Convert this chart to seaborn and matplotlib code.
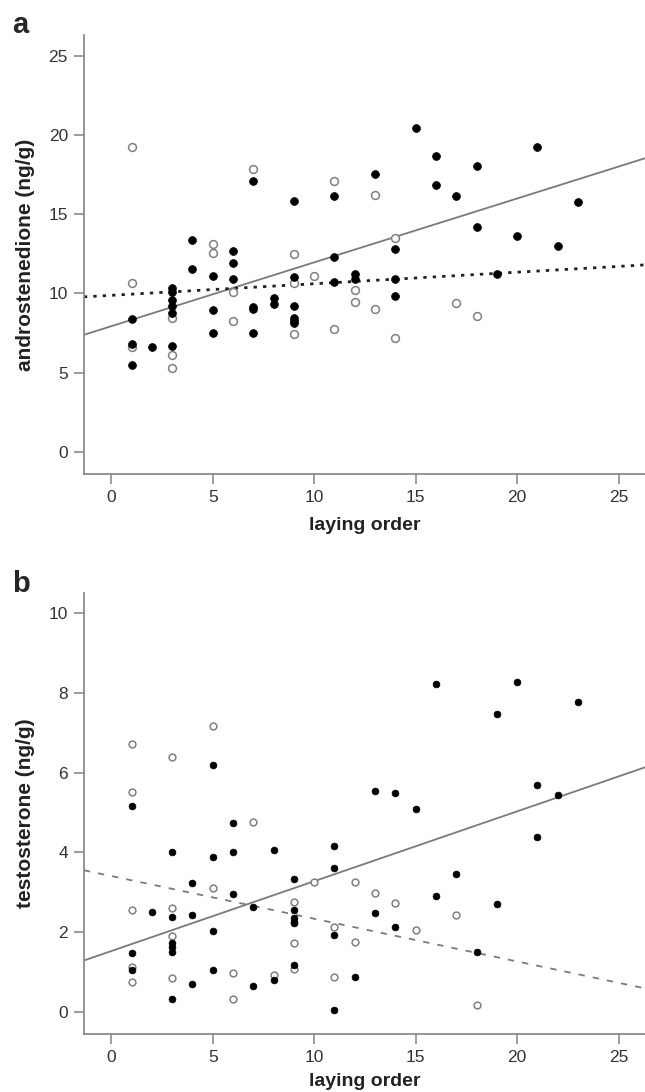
import matplotlib
matplotlib.use("Agg")
import matplotlib.pyplot as plt
import pandas as pd
import seaborn as sns

# panel a: androstenedione
a_closed_x = [15, 16, 18, 21, 7, 13, 11, 16, 17, 9, 18, 23, 20, 22, 19, 14, 14, 14, 11, 11,
              12, 12, 9, 9, 9, 9, 9, 8, 8, 7, 7, 7, 6, 6, 6, 5, 5, 5, 4, 4,
              3, 3, 3, 3, 3, 3, 1, 1, 1, 2]
a_closed_y = [20.4, 18.65, 18.06, 19.26, 17.1, 17.5, 16.16, 16.84, 16.16, 15.84,
              14.2, 15.74, 13.63, 12.97, 11.22, 12.8, 10.93, 9.83, 12.26, 10.7,
              11.24, 10.9, 11.03, 9.2, 8.45, 8.25, 8.1, 9.73, 9.3, 9.15,
              8.98, 7.49, 12.68, 11.94, 10.89, 11.1, 8.92, 7.51, 13.35, 11.56,
              10.36, 10.08, 9.56, 9.2, 8.78, 6.69, 8.4, 6.8, 5.46, 6.58]
a_open_x = [1, 7, 11, 13, 14, 14, 17, 18, 10, 12, 12, 13, 11, 9, 9, 9, 6, 6, 5, 5, 3, 3, 3, 1, 1]
a_open_y = [19.26, 17.85, 17.1, 16.2, 13.46, 7.15, 9.37, 8.57, 11.1, 10.2, 9.47, 8.99, 7.72,
            12.5, 10.67, 7.4, 10.08, 8.25, 13.1, 12.57, 8.46, 6.12, 5.27, 10.63, 6.6]
a_fit_closed = (7.92, 0.403)   # intercept, slope
a_fit_open = (9.87, 0.073)

# panel b: testosterone
b_closed_x = [16, 20, 19, 23, 5, 1, 6, 3, 5, 6, 8, 11, 11, 13, 14, 15, 21, 22, 21, 4,
              6, 7, 9, 9, 9, 9, 9, 13, 14, 16, 17, 19, 2, 3, 4, 5, 3, 3, 3, 1,
              1, 3, 4, 5, 7, 8, 9, 11, 11, 12, 18]
b_closed_y = [8.22, 8.28, 7.47, 7.78, 6.18, 5.16, 4.73, 4.02, 3.88, 4.0,
              4.06, 4.16, 3.6, 5.55, 5.5, 5.09, 5.68, 5.44, 4.38, 3.24,
              2.96, 2.64, 3.33, 2.56, 2.35, 2.27, 2.23, 2.48, 2.13, 2.91,
              3.45, 2.71, 2.5, 2.39, 2.43, 2.04, 1.72, 1.64, 1.51, 1.47,
              1.05, 0.33, 0.71, 1.05, 0.66, 0.8, 1.18, 1.93, 0.06, 0.87, 1.51]
b_open_x = [5, 1, 3, 1, 7, 5, 9, 10, 12, 13, 14, 15, 11, 17, 1, 3, 3, 1, 1, 3, 6, 6, 8, 9, 9, 11, 12, 18]
b_open_y = [7.17, 6.71, 6.38, 5.52, 4.76, 3.12, 2.75, 3.25, 3.26, 2.98, 2.74, 2.06, 2.14, 2.43,
            2.56, 2.6, 1.91, 1.13, 0.76, 0.86, 0.98, 0.34, 0.92, 1.74, 1.08, 0.87, 1.76, 0.18]
b_fit_closed = (1.53, 0.175)
b_fit_open = (3.41, -0.107)

xticks = [0, 5, 10, 15, 20, 25]
a_yticks = [0, 5, 10, 15, 20, 25]
b_yticks = [0, 2, 4, 6, 8, 10]

sns.set_style("white")
plt.rcParams['font.family'] = ['Liberation Sans', 'DejaVu Sans']

GRAY = '#8c8c8c'

fig = plt.figure(figsize=(6.45, 10.92), dpi=100)
ax_a = fig.add_axes([0.130, 0.566, 0.870, 0.402])
ax_b = fig.add_axes([0.130, 0.053, 0.870, 0.404])


def panel(ax, cx, cy, ox, oy, fit_c, fit_o, open_style, yticks, ylim, ylabel, letter,
          msize, xlab_y, letter_y):
    closed = pd.DataFrame({'x': cx, 'y': cy})
    opened = pd.DataFrame({'x': ox, 'y': oy})
    ax.axline((0, fit_c[0]), slope=fit_c[1], color='#7a7a7a', lw=1.3, zorder=1)
    ax.axline((0, fit_o[0]), slope=fit_o[1], zorder=1, **open_style)
    sns.scatterplot(data=opened, x='x', y='y', ax=ax, s=msize, marker='o',
                    facecolor='white', edgecolor='#808080', linewidth=1.1, zorder=2)
    sns.scatterplot(data=closed, x='x', y='y', ax=ax, s=msize, marker='o',
                    color='black', edgecolor='black', linewidth=0.5, zorder=3)
    ax.set_xlim(-1.35, 26.3)
    ax.set_ylim(*ylim)
    ax.set_xticks(xticks)
    ax.set_yticks(yticks)
    for side in ['top', 'right']:
        ax.spines[side].set_visible(False)
    for side in ['left', 'bottom']:
        ax.spines[side].set_color(GRAY)
        ax.spines[side].set_linewidth(1.3)
    ax.tick_params(axis='both', direction='out', length=7.5, width=1.2, color=GRAY,
                   labelsize=12.5, labelcolor='#333333', pad=4, left=True, bottom=True)
    ax.set_xlabel('laying order', fontsize=14, fontweight='bold', color='#222222')
    ax.xaxis.set_label_coords(0.5, xlab_y)
    ax.set_ylabel(ylabel, fontsize=15, fontweight='bold', color='#222222')
    ax.yaxis.set_label_coords(-0.087, 0.5)
    ax.text(-0.128, letter_y, letter, transform=ax.transAxes, fontsize=21,
            fontweight='bold', va='baseline', ha='left')


panel(ax_a, a_closed_x, a_closed_y, a_open_x, a_open_y, a_fit_closed, a_fit_open,
      dict(color='#222222', lw=2.0, linestyle=(0, (1.2, 2.2))),
      a_yticks, (-1.4, 26.3), 'androstenedione (ng/g)', 'a', 32, -0.098, 1.005)
panel(ax_b, b_closed_x, b_closed_y, b_open_x, b_open_y, b_fit_closed, b_fit_open,
      dict(color='#7a7a7a', lw=1.3, linestyle=(0, (3.5, 4.5))),
      b_yticks, (-0.55, 10.5), 'testosterone (ng/g)', 'b', 24, -0.087, 1.002)

fig.savefig('out.png', dpi=100)
